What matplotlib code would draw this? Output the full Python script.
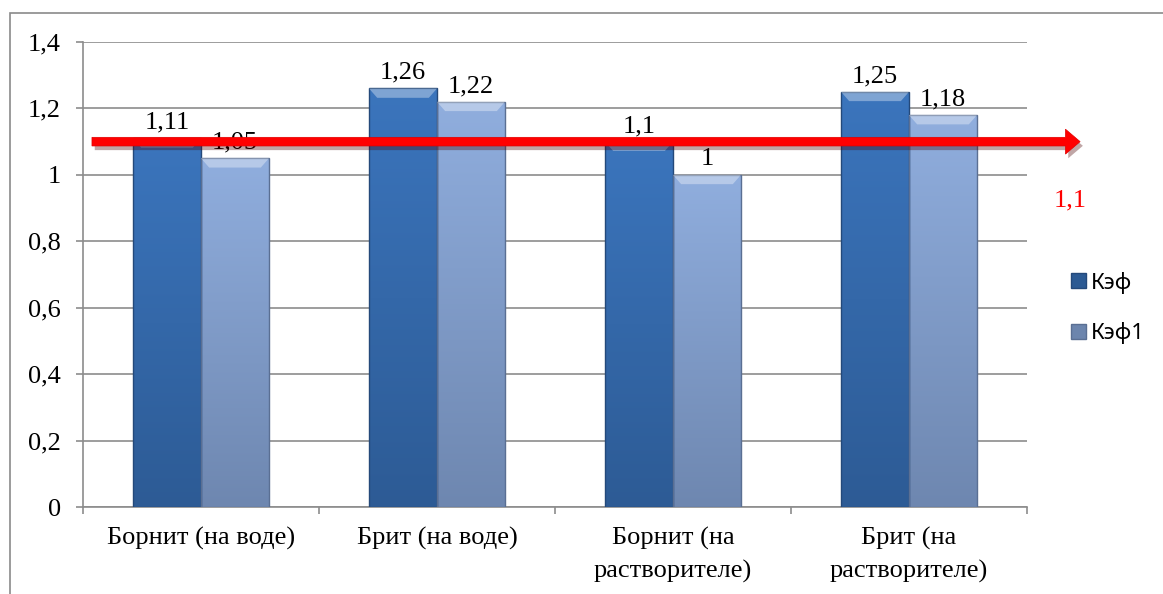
import numpy as np
import matplotlib
matplotlib.use("Agg")
from matplotlib import pyplot as plt
from matplotlib.patches import Rectangle, FancyArrow, Polygon
from matplotlib.colors import LinearSegmentedColormap
import matplotlib.patheffects as pe

categories = ["Борнит (на воде)", "Брит (на воде)", "Борнит (на\nрастворителе)", "Брит (на\nрастворителе)"]
k_ef = [1.11, 1.26, 1.1, 1.25]
k_ef1 = [1.05, 1.22, 1.0, 1.18]
series_names = ["Кэф", "Кэф1"]
threshold = 1.1
threshold_label = "1,1"
y_ticks = [0, 0.2, 0.4, 0.6, 0.8, 1.0, 1.2, 1.4]

SERIF = "Liberation Serif"
FS = 19


def fmt(v):
    s = ("%.2f" % v).rstrip("0").rstrip(".")
    return s.replace(".", ",")


def gradient_bar(ax, x0, w, h, top_color, bottom_color, edge):
    rect = Rectangle((x0, 0), w, h, facecolor="none", edgecolor=edge, lw=1.0, zorder=4)
    ax.add_patch(rect)
    cmap = LinearSegmentedColormap.from_list("g", [bottom_color, top_color])
    grad = np.linspace(0, 1, 256).reshape(-1, 1)
    im = ax.imshow(grad, extent=[x0, x0 + w, 0, h], origin="lower", aspect="auto",
                   cmap=cmap, zorder=3)
    im.set_clip_path(rect)
    # bevel on top of the bar
    bh = 0.028
    bx = w * 0.12
    top = Polygon([[x0, h], [x0 + w, h], [x0 + w - bx, h - bh], [x0 + bx, h - bh]],
                  closed=True, facecolor="white", alpha=0.35, edgecolor="none", zorder=4)
    ax.add_patch(top)


fig = plt.figure(figsize=(11.63, 5.94), dpi=100)
fig.patches.append(Rectangle((10 / 1163, -0.1), 1.2, 0.1 + 1 - 13 / 594, transform=fig.transFigure,
                             facecolor="none", edgecolor="#8a8a8a", lw=1.2, zorder=0))

ax = fig.add_axes([83 / 1163, 1 - 507 / 594, (1027 - 83) / 1163, (507 - 42) / 594])
ax.set_xlim(-0.5, 3.5)
ax.set_ylim(0, 1.4)

bw = 0.288
x = np.arange(len(categories))
for i in range(len(categories)):
    gradient_bar(ax, x[i] - bw, bw, k_ef[i], "#3b75bd", "#2d5b95", "#24497a")
    gradient_bar(ax, x[i], bw, k_ef1[i], "#90aede", "#6e87b0", "#5a6f93")
    ax.text(x[i] - bw / 2, k_ef[i] + 0.014, fmt(k_ef[i]), ha="center", va="bottom",
            family=SERIF, fontsize=FS, zorder=5)
    ax.text(x[i] + bw / 2, k_ef1[i] + 0.014, fmt(k_ef1[i]), ha="center", va="bottom",
            family=SERIF, fontsize=FS, zorder=5)

ax.set_yticks(y_ticks)
ax.set_yticklabels([fmt(v) for v in y_ticks], family=SERIF, fontsize=FS)
ax.yaxis.grid(True, color="#8c8c8c", lw=1.2)
ax.set_axisbelow(True)

ax.set_xticks(np.arange(-0.5, 4, 1.0))
ax.set_xticklabels([])
ax.set_xticks(x, minor=True)
ax.set_xticklabels(categories, minor=True, family=SERIF, fontsize=FS, linespacing=1.6)
ax.tick_params(axis="x", which="minor", length=0, pad=14)
ax.tick_params(axis="both", which="major", length=5, color="#8c8c8c", width=1.2)
ax.tick_params(axis="y", pad=11)

for side in ["top", "right"]:
    ax.spines[side].set_visible(False)
for side in ["left", "bottom"]:
    ax.spines[side].set_color("#8c8c8c")
    ax.spines[side].set_linewidth(1.2)

# threshold arrow
arrow = FancyArrow(-0.462, threshold, 4.187, 0, width=0.026, head_width=0.075,
                   head_length=0.062, length_includes_head=True, facecolor="#ff0000",
                   edgecolor="#e00000", lw=0.5, clip_on=False, zorder=6)
arrow.set_path_effects([pe.SimplePatchShadow(offset=(2, -3), alpha=0.35), pe.Normal()])
ax.add_patch(arrow)
fig.text(1070 / 1163, 1 - 200 / 594, threshold_label, color="#ff0000", family=SERIF,
         fontsize=FS, ha="center", va="center")

handles = [Rectangle((0, 0), 1, 1, facecolor="#2c5a93", edgecolor="#24497a"),
           Rectangle((0, 0), 1, 1, facecolor="#6c85ad", edgecolor="#5a6f93")]
fig.legend(handles, series_names, loc="center left", bbox_to_anchor=(1051 / 1163, 1 - 308 / 594),
           frameon=False, prop={"family": "Noto Sans", "size": 16}, handlelength=0.68,
           handleheight=0.68, handletextpad=0.22, labelspacing=1.3)

plt.savefig("out.png", dpi=100)
